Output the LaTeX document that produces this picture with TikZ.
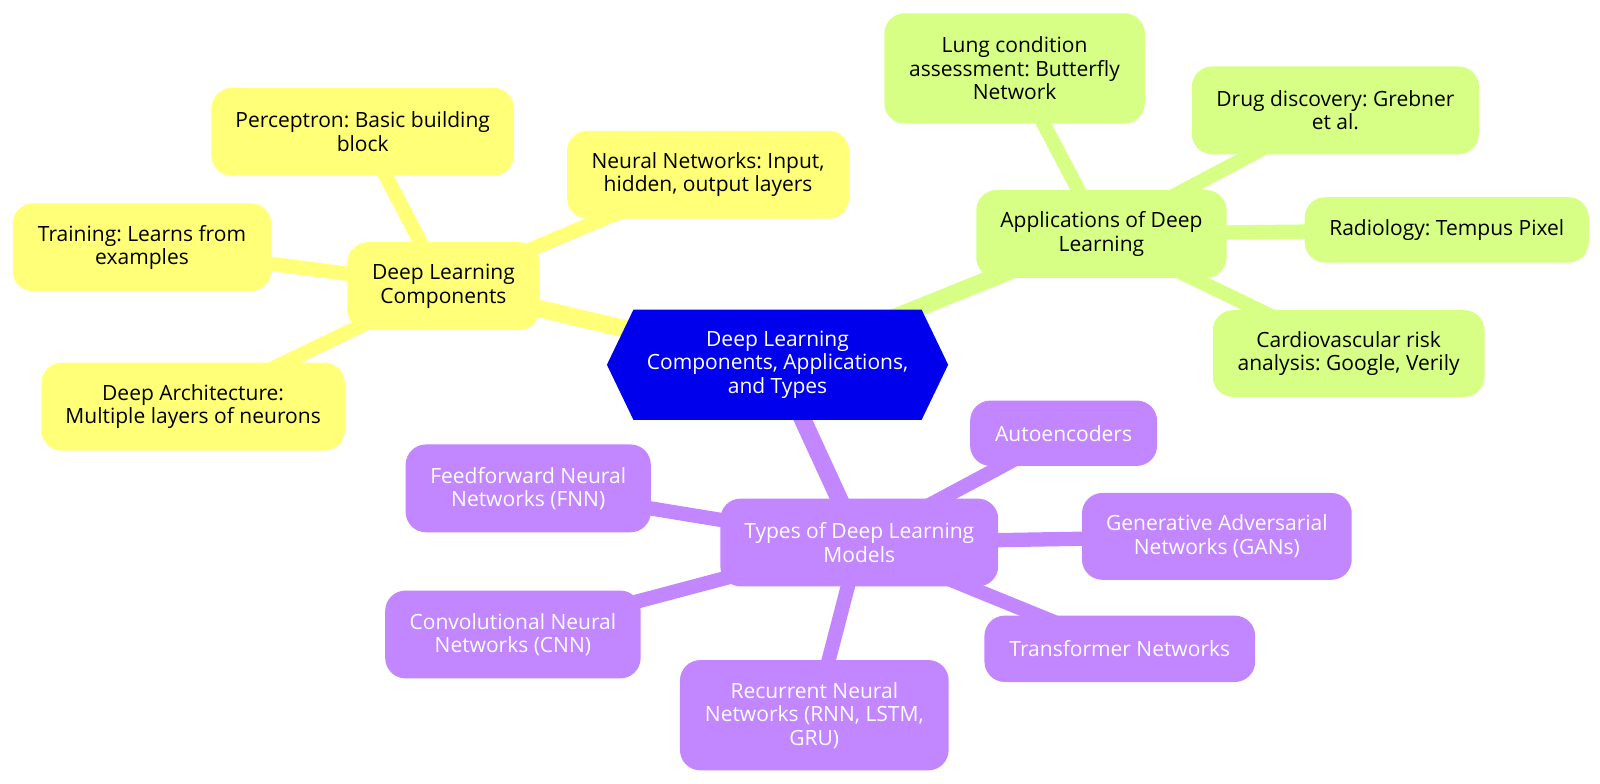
\documentclass[tikz,border=0pt]{standalone}
\usepackage{fontspec}
\setmainfont{Open Sans}
\frenchspacing
\pgfdeclarelayer{bg}
\pgfsetlayers{bg,main}
\definecolor{rootc}{HTML}{0000EC}
\definecolor{yel}{HTML}{FFFF78}
\definecolor{grn}{HTML}{D7FF86}
\definecolor{pur}{HTML}{C286FF}
\tikzset{
  mm/.style={rounded corners=10.2pt, inner sep=0pt, align=center,
    font=\fontsize{10.5pt}{11.75pt}\selectfont},
  ynode/.style={mm, fill=yel, text=black},
  gnode/.style={mm, fill=grn, text=black},
  pnode/.style={mm, fill=pur, text=white},
  sz/.style 2 args={minimum width=#1*0.51086pt, minimum height=#2*0.51086pt},
  rootedge/.style={line width=8.7pt},
  leafedge/.style={line width=7.15pt},
}
\begin{document}
\begin{tikzpicture}[x=0.51086pt, y=-0.51086pt]
\useasboundingbox (0,0) rectangle (1566,767);
% root hexagon
\fill[rootc] (594,357) -- (620,303) -- (902,303) -- (928,357) -- (902,411) -- (620,411) -- cycle;
\node[mm, text=white] (root) at (761,357) {Deep Learning\\Components, Applications,\\and Types};

% yellow section
\node[ynode, sz={188}{86}] (dlc) at (434,280) {Deep Learning\\Components};
\node[ynode, sz={296}{86}] (perc) at (355,129) {Perceptron: Basic building\\block};
\node[ynode, sz={276}{86}] (nn) at (693,171) {Neural Networks: Input,\\hidden, output layers};
\node[ynode, sz={253}{86}] (train) at (139,242) {Training: Learns from\\examples};
\node[ynode, sz={297}{86}] (arch) at (189,398) {Deep Architecture:\\Multiple layers of neurons};

% green section
\node[gnode, sz={245}{86}] (apps) at (1078,229) {Applications of Deep\\Learning};
\node[gnode, sz={255}{108}] (lung) at (993,67) {Lung condition\\assessment: Butterfly\\Network};
\node[gnode, sz={281}{86}] (drug) at (1307,108) {Drug discovery: Grebner\\et al.};
\node[gnode, sz={278}{64}] (rad) at (1416,225) {Radiology: Tempus Pixel};
\node[gnode, sz={266}{85}] (cardio) at (1320,346) {Cardiovascular risk\\analysis: Google, Verily};

% purple section
\node[pnode, sz={272}{86}] (types) at (841,531) {Types of Deep Learning\\Models};
\node[pnode, sz={183}{64}] (auto) at (1041,424) {Autoencoders};
\node[pnode, sz={240}{86}] (fnn) at (517,478) {Feedforward Neural\\Networks (FNN)};
\node[pnode, sz={264}{85}] (gan) at (1191,525) {Generative Adversarial\\Networks (GANs)};
\node[pnode, sz={250}{86}] (cnn) at (502,621) {Convolutional Neural\\Networks (CNN)};
\node[pnode, sz={265}{65}] (trans) at (1096,635) {Transformer Networks};
\node[pnode, sz={263}{108}] (rnn) at (797,700) {Recurrent Neural\\Networks (RNN, LSTM,\\GRU)};

\begin{pgfonlayer}{bg}
\draw[rootedge, yel] (root.center) -- (dlc.center);
\draw[rootedge, grn] (root.center) -- (apps.center);
\draw[rootedge, pur] (root.center) -- (types.center);
\foreach \n in {perc,nn,train,arch} \draw[leafedge, yel] (dlc.center) -- (\n.center);
\foreach \n in {lung,drug,rad,cardio} \draw[leafedge, grn] (apps.center) -- (\n.center);
\foreach \n in {auto,fnn,gan,cnn,trans,rnn} \draw[leafedge, pur] (types.center) -- (\n.center);
\end{pgfonlayer}
\end{tikzpicture}
\end{document}
